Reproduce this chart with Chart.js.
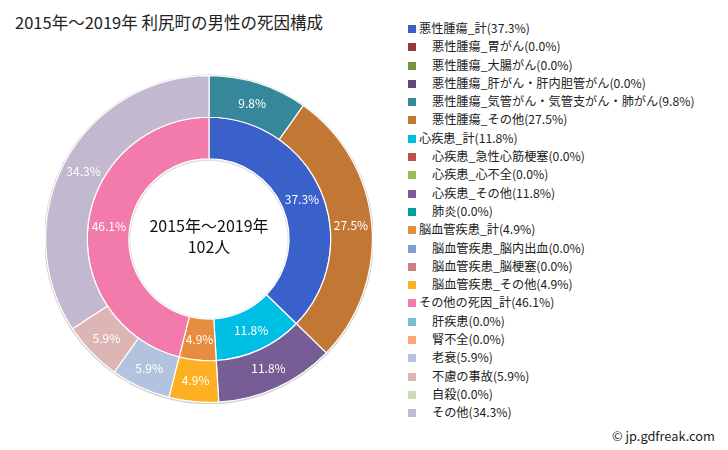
<!DOCTYPE html>
<html lang="ja">
<head>
<meta charset="UTF-8">
<title>利尻町の男性の死因構成</title>
<script src="https://cdn.jsdelivr.net/npm/chart.js"></script>
<style>
  body { margin: 0; background: #fff; font-family: "Noto Sans CJK JP", "Noto Sans", sans-serif; color: #222; }
  .page { position: relative; width: 728px; height: 450px; overflow: hidden; }
  .title { position: absolute; left: 15px; top: 10px; font-size: 16.5px; white-space: nowrap; }
  .chart-wrap { position: absolute; left: 45px; top: 74px; width: 328px; height: 330px; }
  .legend { position: absolute; left: 408px; top: 19px; font-size: 12.2px; }
  .legend .row { height: 18.3px; line-height: 18.3px; white-space: nowrap; position: relative; }
  .legend .box { position: absolute; left: 0; top: 6px; width: 8px; height: 8px; }
  .legend .txt { position: absolute; left: 11px; top: 0; }
  .legend .sub .txt { left: 24px; }
  .copy { position: absolute; left: 612px; top: 426px; font-size: 12.8px; white-space: nowrap; }
</style>
</head>
<body>
<div class="page">
  <div class="title">2015年～2019年 利尻町の男性の死因構成</div>
  <div class="chart-wrap"><canvas id="deathChart"></canvas></div>
  <div class="legend" id="legend"></div>
  <div class="copy">© jp.gdfreak.com</div>
</div>
<script>
// inner ring: totals
const groupLabels = ['悪性腫瘍_計', '心疾患_計', '脳血管疾患_計', 'その他の死因_計'];
const groupValues = [37.3, 11.8, 4.9, 46.1];
const groupColors = ['#3A60C9', '#00BFE4', '#E88D3F', '#F27BAC'];

// outer ring: details
const detailLabels = [
  '悪性腫瘍_胃がん', '悪性腫瘍_大腸がん', '悪性腫瘍_肝がん・肝内胆管がん',
  '悪性腫瘍_気管がん・気管支がん・肺がん', '悪性腫瘍_その他',
  '心疾患_急性心筋梗塞', '心疾患_心不全', '心疾患_その他', '肺炎',
  '脳血管疾患_脳内出血', '脳血管疾患_脳梗塞', '脳血管疾患_その他',
  '肝疾患', '腎不全', '老衰', '不慮の事故', '自殺', 'その他'
];
const detailValues = [0, 0, 0, 9.8, 27.5, 0, 0, 11.8, 0, 0, 0, 4.9, 0, 0, 5.9, 5.9, 0, 34.3];
const detailColors = [
  '#953A38', '#77933C', '#604A7B', '#37879A', '#C37734',
  '#C0504D', '#9BBB59', '#765D96', '#00A09E',
  '#7F9FD0', '#D07F7F', '#FCB022',
  '#7ABCD0', '#FBA978', '#B3C3DE', '#DEB5B5', '#CCDDB5', '#C2B8D0'
];
const detailGroup = [0, 0, 0, 0, 0, 1, 1, 1, 1, 2, 2, 2, 3, 3, 3, 3, 3, 3];

const centerLines = ['2015年～2019年', '102人'];

// legend
const legendEl = document.getElementById('legend');
function addRow(label, value, color, sub) {
  const row = document.createElement('div');
  row.className = 'row' + (sub ? ' sub' : '');
  row.innerHTML = '<span class="box" style="background:' + color + '"></span><span class="txt">' +
    label + '(' + value.toFixed(1) + '%)</span>';
  legendEl.appendChild(row);
}
groupLabels.forEach((g, gi) => {
  addRow(g, groupValues[gi], groupColors[gi], false);
  detailLabels.forEach((d, di) => {
    if (detailGroup[di] === gi) addRow(d, detailValues[di], detailColors[di], true);
  });
});

const FONT = '"Noto Sans CJK JP", "Noto Sans", sans-serif';

// ring shadow, percent labels, center text
const decorPlugin = {
  id: 'decor',
  beforeDatasetsDraw(chart) {
    const meta = chart.getDatasetMeta(0);
    const arc = meta.data[0];
    if (!arc) return;
    const ctx = chart.ctx;
    const inner = chart.getDatasetMeta(1).data[0];
    ctx.save();
    ctx.strokeStyle = 'rgba(0,0,0,0.18)';
    ctx.lineWidth = 2;
    ctx.beginPath();
    ctx.arc(arc.x, arc.y + 0.5, arc.outerRadius + 0.5, 0, Math.PI * 2);
    ctx.stroke();
    ctx.strokeStyle = 'rgba(0,0,0,0.12)';
    ctx.beginPath();
    ctx.arc(inner.x, inner.y + 0.5, inner.innerRadius - 0.5, 0, Math.PI * 2);
    ctx.stroke();
    ctx.restore();
  },
  afterDatasetsDraw(chart) {
    const ctx = chart.ctx;
    ctx.save();
    ctx.fillStyle = '#fff';
    ctx.font = '12px ' + FONT;
    ctx.textAlign = 'center';
    ctx.textBaseline = 'middle';
    chart.data.datasets.forEach((ds, i) => {
      chart.getDatasetMeta(i).data.forEach((el, j) => {
        const v = ds.data[j];
        if (!v) return;
        const p = el.tooltipPosition();
        ctx.fillText(v.toFixed(1) + '%', p.x, p.y);
      });
    });
    const c = chart.getDatasetMeta(0).data[0];
    ctx.fillStyle = '#111';
    ctx.font = '16px ' + FONT;
    ctx.fillText(centerLines[0], c.x, c.y - 13);
    ctx.fillText(centerLines[1], c.x, c.y + 8);
    ctx.restore();
  }
};

new Chart(document.getElementById('deathChart'), {
  type: 'doughnut',
  data: {
    labels: detailLabels,
    datasets: [
      { data: detailValues, backgroundColor: detailColors, borderColor: '#fff', borderWidth: 1.2 },
      { data: groupValues, backgroundColor: groupColors, borderColor: '#fff', borderWidth: 1.2 }
    ]
  },
  options: {
    responsive: true,
    maintainAspectRatio: false,
    animation: false,
    cutout: '49%',
    layout: { padding: 0 },
    plugins: {
      legend: { display: false },
      tooltip: { enabled: false }
    }
  },
  plugins: [decorPlugin]
});
</script>
</body>
</html>
